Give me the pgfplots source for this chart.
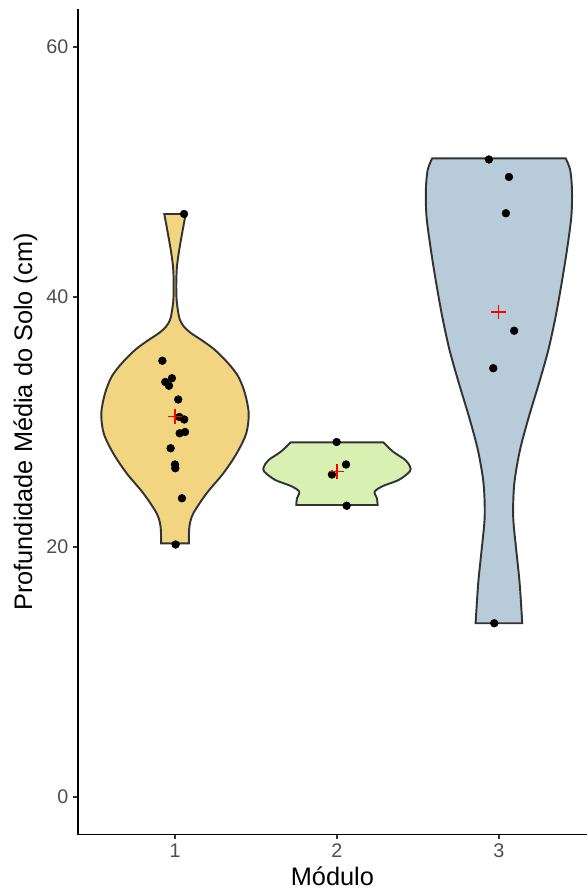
\documentclass[border=0pt]{standalone}
\usepackage{pgfplots}
\pgfplotsset{compat=1.18}
\usepackage{pgfplotstable}
\usepgfplotslibrary{fillbetween}
\usepackage{fontspec}
\setmainfont{Liberation Sans}

\definecolor{vone}{HTML}{F2D580}
\definecolor{vtwo}{HTML}{D9F0B3}
\definecolor{vthree}{HTML}{B8CBD8}
\definecolor{outl}{HTML}{333333}
\definecolor{grey30}{HTML}{4D4D4D}

% violin outlines: y value and half-width (in x units)
\pgfplotstableread{
y w
20.29 0.086
21.63 0.089
22.69 0.113
24.29 0.195
25.89 0.298
27.49 0.381
29.09 0.440
30.69 0.455
32.29 0.432
33.63 0.391
34.69 0.329
35.76 0.247
36.50 0.170
37.10 0.100
37.63 0.055
38.16 0.031
38.69 0.021
39.76 0.010
41.09 0.008
42.43 0.012
43.76 0.026
45.09 0.044
46.64 0.066
}\vone

\pgfplotstableread{
y w
23.36 0.251
23.89 0.247
24.43 0.233
24.88 0.284
25.36 0.381
26.03 0.449
26.43 0.451
26.96 0.422
27.63 0.346
28.37 0.286
}\vtwo

\pgfplotstableread{
y w
13.90 0.144
17.09 0.128
19.76 0.107
22.43 0.088
25.09 0.095
27.76 0.130
30.43 0.185
33.09 0.247
35.76 0.305
38.43 0.350
41.09 0.387
43.76 0.420
46.43 0.447
48.56 0.451
50.16 0.440
51.09 0.412
}\vthree

% observations
\pgfplotstableread{
x y
1.056 46.64
0.922 34.9
0.981 33.5
0.940 33.2
0.963 32.9
1.020 31.8
1.027 30.4
1.057 30.2
1.062 29.2
1.029 29.1
0.973 27.9
1.000 26.6
1.002 26.3
1.043 23.9
1.004 20.2
1.998 28.4
2.056 26.6
1.969 25.8
2.060 23.3
2.938 51.0
3.062 49.6
3.043 46.7
3.094 37.3
2.965 34.3
2.971 13.9
}\pts

\pgfplotstableread{
x y
1 30.45
2 26.03
3 38.8
}\means

\begin{document}
\begin{tikzpicture}
\begin{axis}[
  scale only axis,
  width=381.9pt, height=618.75pt,
  xmin=0.4, xmax=3.544,
  ymin=-3, ymax=63,
  axis lines*=left,
  axis line style={black, line width=1.3pt},
  xtick={1,2,3}, ytick={0,20,40,60},
  tick align=outside,
  major tick length=3.5pt,
  tick style={outl, line width=1.1pt},
  /pgf/number format/assume math mode=true,
  ticklabel style={font=\fontsize{14.8}{16}\selectfont, text=grey30},
  xlabel={Módulo},
  ylabel={Profundidade Média do Solo (cm)},
  label style={font=\fontsize{19}{21}\selectfont, text=black},
  clip=false,
]
\coordinate (SW) at (rel axis cs:0,0);
\coordinate (NE) at (rel axis cs:1,1);

\addplot[draw=none, smooth, name path=L1] table[x expr=1-\thisrow{w}, y=y] {\vone};
\addplot[draw=none, smooth, name path=R1] table[x expr=1+\thisrow{w}, y=y] {\vone};
\addplot[fill=vone, draw=outl, line width=1.45pt] fill between[of=L1 and R1, reverse=true];

\addplot[draw=none, smooth, name path=L2] table[x expr=2-\thisrow{w}, y=y] {\vtwo};
\addplot[draw=none, smooth, name path=R2] table[x expr=2+\thisrow{w}, y=y] {\vtwo};
\addplot[fill=vtwo, draw=outl, line width=1.45pt] fill between[of=L2 and R2, reverse=true];

\addplot[draw=none, smooth, name path=L3] table[x expr=3-\thisrow{w}, y=y] {\vthree};
\addplot[draw=none, smooth, name path=R3] table[x expr=3+\thisrow{w}, y=y] {\vthree};
\addplot[fill=vthree, draw=outl, line width=1.45pt] fill between[of=L3 and R3, reverse=true];

\addplot[only marks, mark=*, mark size=2.9pt, mark options={fill=black, draw=black}] table[x=x, y=y] {\pts};
\addplot[only marks, mark=+, mark size=5.6pt, mark options={draw=red, line width=0.85pt}] table[x=x, y=y] {\means};
\end{axis}
\pgfresetboundingbox
\path[use as bounding box] ([xshift=-58.35pt,yshift=-41.6pt]SW) rectangle ([yshift=7.1pt]NE);
\end{tikzpicture}
\end{document}
